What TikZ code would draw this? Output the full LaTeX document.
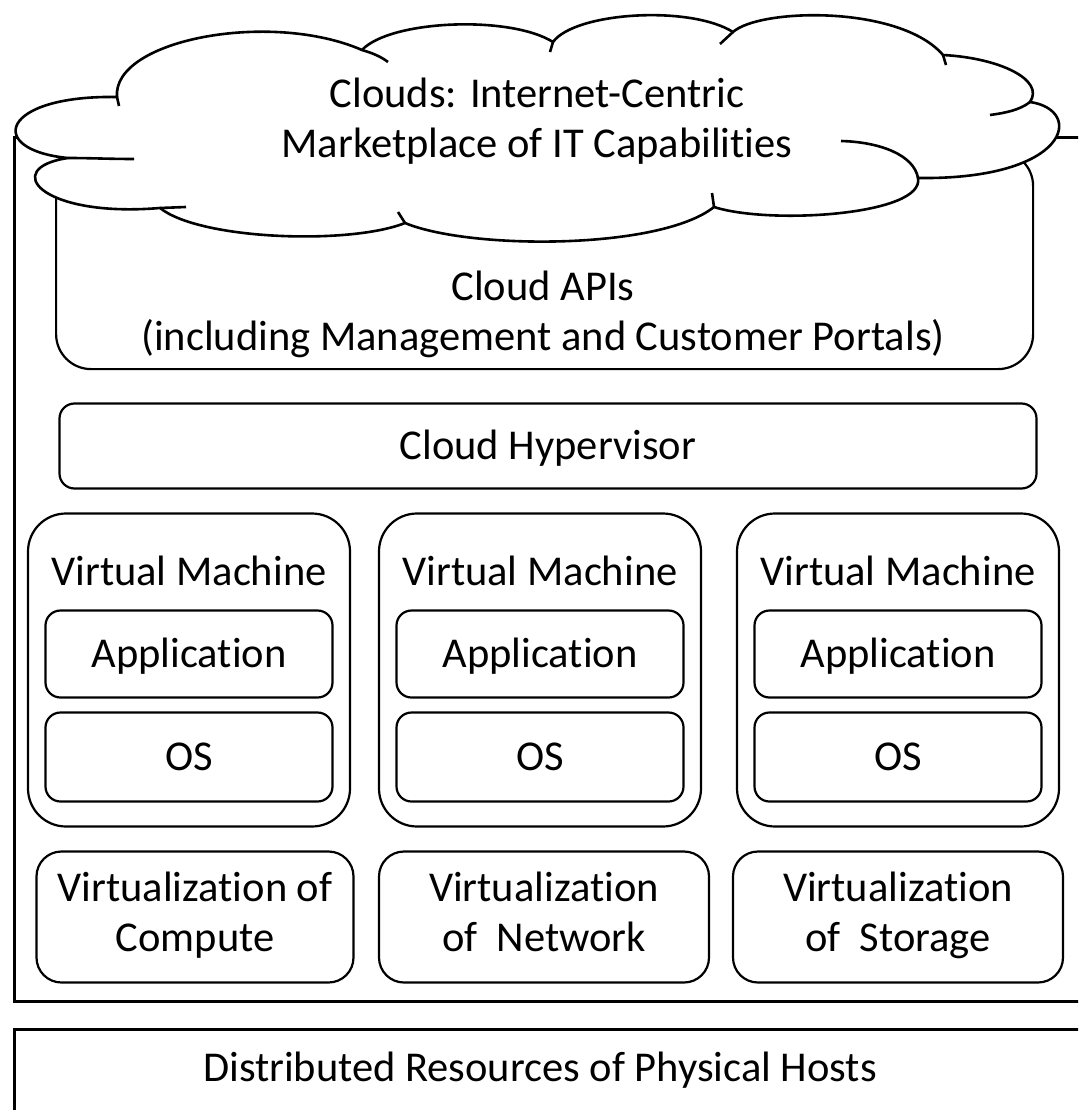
\documentclass[tikz,border=0pt]{standalone}
\usepackage{fontspec}
\setmainfont{Carlito}[Ligatures=NoCommon]
\newcommand\capstrut{\rule[-11.5pt]{0pt}{50pt}}
\tikzset{
  lbl/.style={font=\fontsize{42.5}{50}\selectfont, align=center, inner sep=0pt,
    execute at begin node=\capstrut, execute at end node=\capstrut},
  frame/.style={draw, line width=3pt, inner sep=0pt},
  layer/.style={draw, line width=2.2pt, rounded corners=15pt, inner sep=0pt, lbl},
  vmbox/.style={layer, rounded corners=38pt},
  cloudline/.style={line width=2.6pt, line join=round},
}
\begin{document}
\begin{tikzpicture}[x=1pt, y=-1pt]
  \useasboundingbox (0,0) rectangle (1078,1110);
  \clip (0,0) rectangle (1078,1110);
  % frames
  \node[frame, anchor=north west, minimum width=1200pt, minimum height=864pt] (stack) at (13,136) {};
  \node[frame, anchor=north west, minimum width=1200pt, minimum height=200pt] (hosts) at (13,1028) {};
  \node[lbl] (hoststxt) at (540,1068) {Distributed Resources of Physical Hosts};
  % cloud apis and hypervisor
  \node[layer, rounded corners=35pt, anchor=north west, minimum width=977pt, minimum height=218pt] (apis) at (55,150) {};
  \node[lbl] (apitxt) at (543,316) {Cloud APIs\\(including Management and Customer Portals)};
  \node[layer, minimum width=977pt, minimum height=85pt] (hyper) at (548,446) {Cloud Hypervisor};
  % virtual machines
  \foreach \n/\x/\vx/\vw/\vtxt in {1/189/195/317/{Virtualization of\\Compute},
      2/540/544/330/{Virtualization\\of~ Network}, 3/898/898/330/{Virtualization\\of~ Storage}} {
    \node[vmbox, minimum width=322pt, minimum height=313pt] (vm\n) at (\x,670) {};
    \node[lbl] (vmtxt\n) at (\x,572) {Virtual Machine};
    \node[layer, minimum width=287pt, minimum height=87pt] (app\n) at (\x,654) {Application};
    \node[layer, minimum width=287pt, minimum height=89pt] (os\n) at (\x,757) {OS};
    \node[layer, rounded corners=25pt, minimum width=\vw pt, minimum height=131pt] (virt\n) at (\vx,917) {\vtxt};
  }
  % cloud
  \draw[cloudline, fill=white] (117,97) .. controls (112,40) and (270,10) .. (362,50)
    .. controls (390,20) and (510,15) .. (553,42)
    .. controls (575,12) and (690,5) .. (733,32)
    .. controls (760,8) and (900,5) .. (943,55)
    .. controls (1000,58) and (1045,80) .. (1030,102)
    .. controls (1085,110) and (1070,180) .. (918,178)
    .. controls (925,215) and (770,225) .. (714,207)
    .. controls (660,250) and (470,250) .. (405,223)
    .. controls (350,245) and (200,240) .. (160,208)
    .. controls (40,218) and (0,168) .. (68,158)
    .. controls (-15,150) and (0,95) .. cycle;
  \draw[cloudline] (117,97) -- (119,106);
  \draw[cloudline] (362,50) .. controls (372,53) and (380,56) .. (388,62);
  \draw[cloudline] (553,42) -- (550,52);
  \draw[cloudline] (733,32) -- (720,44);
  \draw[cloudline] (943,55) -- (946,65);
  \draw[cloudline] (1030,102) .. controls (1020,110) and (1005,113) .. (990,115);
  \draw[cloudline] (918,178) .. controls (914,155) and (880,142) .. (841,141);
  \draw[cloudline] (714,207) -- (712,193);
  \draw[cloudline] (405,223) -- (398,212);
  \draw[cloudline] (160,208) -- (186,207);
  \draw[cloudline] (68,158) .. controls (90,158) and (110,159) .. (134,159);
  \node[lbl] (cloudtxt) at (537,123) {Clouds: Internet-Centric\\Marketplace of IT Capabilities};
\end{tikzpicture}
\end{document}
